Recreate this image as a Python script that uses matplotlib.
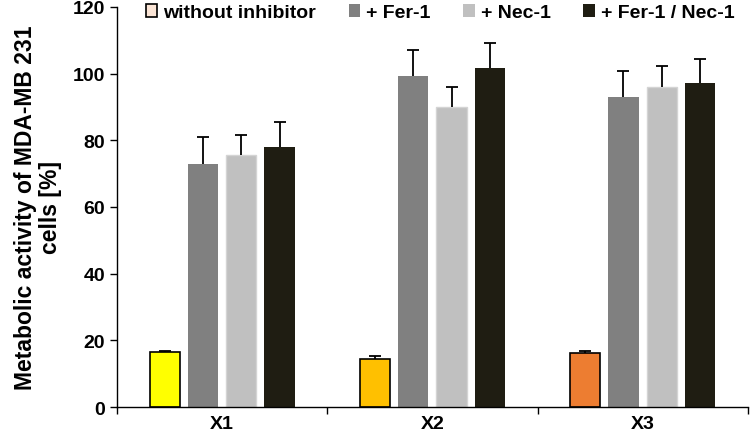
import numpy as np
import matplotlib.pyplot as plt

plt.rcParams['font.family'] = ['Liberation Sans', 'DejaVu Sans']
plt.rcParams['font.weight'] = 'bold'

groups = ["X1", "X2", "X3"]
series = ["without inhibitor", "+ Fer-1", "+ Nec-1", "+ Fer-1 / Nec-1"]

# mean values per series (one value per group)
without_inh = [16.4, 14.4, 16.2]
fer1 = [72.9, 99.2, 92.9]
nec1 = [75.6, 89.9, 96.1]
fer1_nec1 = [78.1, 101.6, 97.1]

# upper error bars
without_err = [0.5, 0.8, 0.5]
fer1_err = [8.0, 8.0, 8.0]
nec1_err = [6.0, 6.2, 6.1]
fer1_nec1_err = [7.3, 7.5, 7.3]

without_colors = ["#FFFF00", "#FFC000", "#ED7D31"]
series_colors = ["#FBE5D6", "#808080", "#C0C0C0", "#1F1D12"]

values = [without_inh, fer1, nec1, fer1_nec1]
errors = [without_err, fer1_err, nec1_err, fer1_nec1_err]

fig = plt.figure(figsize=(7.5, 4.39), dpi=100)
ax = fig.add_axes([0.156, 0.0706, 0.841, 0.9114])

x = np.arange(len(groups))
width = 0.143
offsets = [-0.273, -0.091, 0.091, 0.273]

for k, (vals, errs) in enumerate(zip(values, errors)):
    pos = x + offsets[k]
    vals = np.array(vals)
    errs = np.array(errs)
    if k == 0:
        ax.bar(pos, vals, width, color=without_colors, edgecolor="black",
               linewidth=1.2, zorder=2)
    elif k == 2:
        ax.bar(pos, vals, width, color=series_colors[k], edgecolor="#D4D4D4",
               linewidth=1.0, zorder=2)
    else:
        ax.bar(pos, vals, width, color=series_colors[k], zorder=2)
    # upward-only error bar with a cap on the top end
    ax.vlines(pos, vals, vals + errs, color="black", linewidth=1.3, zorder=3)
    ax.plot(pos, vals + errs, linestyle="none", marker="_", markersize=9,
            markeredgewidth=1.3, color="black", zorder=3)

# legend handles
handles = []
for k, name in enumerate(series):
    if k == 0:
        h = plt.Rectangle((0, 0), 1, 1, facecolor=series_colors[0], edgecolor="black", linewidth=1.2)
    else:
        h = plt.Rectangle((0, 0), 1, 1, facecolor=series_colors[k])
    handles.append(h)
ax.legend(handles, series, loc="center", bbox_to_anchor=(0.512, 0.985), ncol=4,
          frameon=False, handlelength=0.6, handleheight=0.6, handletextpad=0.3,
          columnspacing=1.68, prop={"size": 14, "weight": "bold"})

ax.set_ylim(0, 120)
ax.set_yticks(range(0, 121, 20))
ax.set_xlim(-0.5, 2.5)
ax.set_xticks(x)
ax.set_xticklabels(groups, fontsize=14, fontweight="bold")
ax.set_xticks([-0.5, 0.5, 1.5, 2.5], minor=True)
ax.tick_params(axis="x", which="major", length=0, pad=6)
ax.tick_params(axis="x", which="minor", length=5, direction="out", width=1)
ax.tick_params(axis="y", labelsize=14, length=5, width=1, direction="out")
for lbl in ax.get_yticklabels():
    lbl.set_fontweight("bold")

ax.spines["top"].set_visible(False)
ax.spines["right"].set_visible(False)
ax.spines["left"].set_linewidth(1)
ax.spines["bottom"].set_linewidth(1)

ax.set_ylabel("Metabolic activity of MDA-MB 231\ncells [%]", fontsize=16.5,
              fontweight="bold", labelpad=8, linespacing=1.1)

fig.savefig("out.png", dpi=100)
